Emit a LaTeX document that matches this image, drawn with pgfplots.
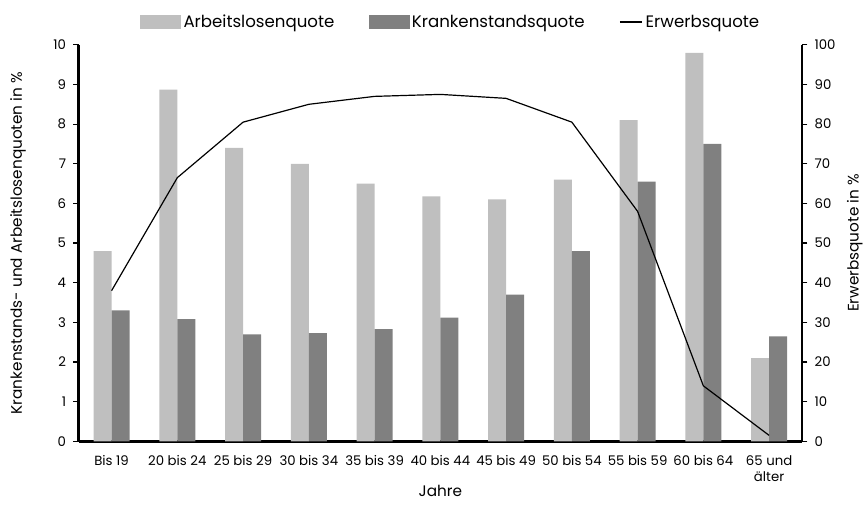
\documentclass[border=0pt]{standalone}
\usepackage{pgfplots}
\pgfplotsset{compat=1.18}
\usepackage{fontspec}
\setmainfont{Poppins}
\definecolor{lg}{HTML}{BFBFBF}
\definecolor{dg}{HTML}{808080}
\begin{document}
\begin{tikzpicture}[font=\fontsize{10}{12}\selectfont]
\pgfplotsset{
  every axis/.append style={
    scale only axis, width=544.5pt, height=298.5pt,
    xmin=-0.5, xmax=10.5,
    /pgf/number format/assume math mode=true,
    tick align=outside, major tick length=4pt,
    every tick/.style={black, line width=0.9pt},
    axis line style={line width=1.9pt},
    tick label style={font=\fontsize{10}{12}\selectfont},
    label style={font=\fontsize{11.5}{13}\selectfont},
  }
}
\begin{axis}[
  name=ax,
  axis x line*=bottom, axis y line*=left,
  ymin=0, ymax=10, ytick={0,1,...,10},
  yticklabel style={xshift=-2pt},
  xtick={0,...,10},
  xticklabels={Bis 19,20 bis 24,25 bis 29,30 bis 34,35 bis 39,40 bis 44,45 bis 49,50 bis 54,55 bis 59,60 bis 64,{65 und\\älter}},
  xticklabel style={align=center, text depth=0pt, yshift=-3pt},
  x tick style={draw=none},
  xlabel={Jahre},
  xlabel style={at={(axis description cs:0.5,0)}, anchor=center, yshift=-37.5pt},
  ylabel={Krankenstands- und Arbeitslosenquoten in \%},
  ylabel style={at={(axis description cs:0,0.5)}, anchor=center, yshift=45.75pt},
  ybar, bar width=13.5pt,
]
\addplot[fill=lg, draw=none, bar shift=-6.75pt] coordinates {
(0,4.8) (1,8.87) (2,7.4) (3,7.0) (4,6.5) (5,6.18) (6,6.1) (7,6.6) (8,8.1) (9,9.8) (10,2.1)};
\addplot[fill=dg, draw=none, bar shift=6.75pt] coordinates {
(0,3.3) (1,3.08) (2,2.7) (3,2.73) (4,2.83) (5,3.12) (6,3.7) (7,4.8) (8,6.55) (9,7.5) (10,2.65)};
\coordinate (SW) at (rel axis cs:0,0);
\coordinate (NE) at (rel axis cs:1,1);
\end{axis}
\begin{axis}[
  axis x line=none, axis y line*=right,
  ymin=0, ymax=100, ytick={0,10,...,100},
  yticklabel style={xshift=2pt},
  ylabel={Erwerbsquote in \%},
  ylabel style={at={(axis description cs:1,0.5)}, anchor=center, yshift=-39.75pt},
  legend style={at={(0.515,1)}, anchor=center, yshift=17.25pt, draw=none, fill=none,
    legend columns=3, font=\fontsize{12.5}{14}\selectfont,
    /tikz/every even column/.append style={column sep=24pt},
    inner sep=0pt},
  legend cell align=left,
]
\addlegendimage{legend image code/.code={\fill[lg] (0pt,-5pt) rectangle (30pt,5pt);}}
\addlegendentry{Arbeitslosenquote}
\addlegendimage{legend image code/.code={\fill[dg] (0pt,-5pt) rectangle (30pt,5pt);}}
\addlegendentry{Krankenstandsquote}
\addplot[black, line width=0.9pt, mark=none] coordinates {
(0,38) (1,66.5) (2,80.5) (3,85) (4,87) (5,87.5) (6,86.5) (7,80.5) (8,58) (9,14) (10,1.5)};
\addlegendentry{Erwerbsquote}
\end{axis}
\path ([xshift=-59.25pt, yshift=-48.75pt]SW) rectangle ([xshift=46.5pt, yshift=33.75pt]NE);
\end{tikzpicture}
\end{document}
